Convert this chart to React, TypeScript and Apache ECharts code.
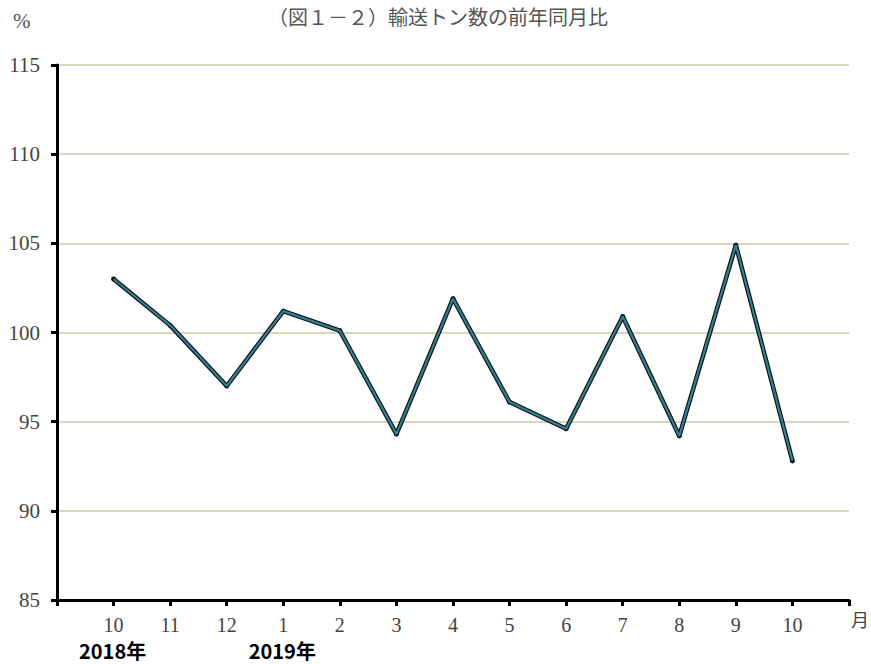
import React, { useEffect, useRef } from "react";
import * as echarts from "echarts";

const titleText = "（図１－２）輸送トン数の前年同月比";
const monthLabels = ["", "10", "11", "12", "1", "2", "3", "4", "5", "6", "7", "8", "9", "10", ""];
const ratioValues: (number | null)[] = [null, 103.0, 100.4, 97.0, 101.2, 100.1, 94.3, 101.9, 96.1, 94.6, 100.9, 94.2, 104.9, 92.8, null];
const yearLabels = [
  { text: "2018年", index: 1 },
  { text: "2019年", index: 4 },
];
const yMin = 85;
const yMax = 115;
const yStep = 5;

export default function App() {
  const ref = useRef<HTMLDivElement>(null);
  useEffect(() => {
    if (!ref.current) return;
    const chart = echarts.init(ref.current, null, { renderer: "svg" });
    const serif = "'Liberation Serif', 'DejaVu Serif', serif";
    const cjk = "'Noto Sans CJK JP', sans-serif";
    chart.setOption({
      animation: false,
      backgroundColor: "#ffffff",
      title: {
        text: titleText,
        left: 433,
        top: 1,
        textAlign: "center",
        textStyle: {
          fontFamily: cjk,
          fontWeight: "normal",
          fontSize: 20,
          color: "#555555",
        },
      },
      grid: { left: 57, right: 22, top: 65, bottom: 64 },
      xAxis: {
        type: "category",
        data: monthLabels,
        boundaryGap: false,
        axisLine: { lineStyle: { color: "#000000", width: 3 } },
        axisTick: { show: true, length: 6, lineStyle: { color: "#000000", width: 3 } },
        axisLabel: {
          interval: 0,
          margin: 15,
          fontFamily: serif,
          fontSize: 20,
          color: "#444444",
        },
        splitLine: { show: false },
      },
      yAxis: {
        type: "value",
        min: yMin,
        max: yMax,
        interval: yStep,
        axisLine: { show: true, lineStyle: { color: "#000000", width: 3 } },
        axisTick: { show: true, length: 6, lineStyle: { color: "#000000", width: 3 } },
        axisLabel: {
          margin: 17,
          fontFamily: serif,
          fontSize: 21,
          color: "#444444",
        },
        splitLine: { show: true, lineStyle: { color: "#cfc7a6", width: 1.5 } },
      },
      series: [
        {
          type: "line",
          data: ratioValues,
          silent: true,
          z: 2,
          lineStyle: { color: "#111111", width: 4.5 },
          symbol: "circle",
          symbolSize: 5,
          itemStyle: { color: "#111111" },
        },
        {
          type: "line",
          data: ratioValues,
          silent: true,
          z: 3,
          lineStyle: { color: "#2f8095", width: 2.2 },
          symbol: "none",
        },
      ],
    });
    const gs = yearLabels.map((y) => {
      const [px] = chart.convertToPixel({ gridIndex: 0 }, [y.index, yMin]) as number[];
      return {
        type: "text",
        x: px - 1,
        y: 650,
        style: {
          text: y.text,
          fontFamily: cjk,
          fontWeight: "bold",
          fontSize: 20,
          fill: "#000000",
          align: "center",
          verticalAlign: "middle",
        },
      };
    });
    chart.setOption({
      graphic: [
        {
          type: "text",
          left: 13,
          top: 10,
          style: { text: "%", fontFamily: serif, fontSize: 21, fill: "#555555" },
        },
        {
          type: "text",
          left: 851,
          top: 610,
          style: { text: "月", fontFamily: cjk, fontSize: 18, fill: "#444444" },
        },
        ...gs,
      ],
    });
    return () => chart.dispose();
  }, []);
  return <div ref={ref} style={{ width: 871, height: 664, position: "absolute", left: 0, top: 0 }} />;
}
